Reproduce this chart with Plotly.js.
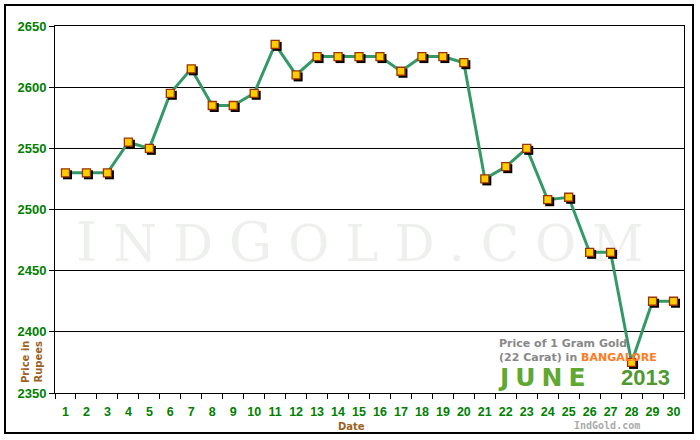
<!DOCTYPE html>
<html>
<head>
<meta charset="utf-8">
<script src="https://cdn.plot.ly/plotly-3.0.1.min.js"></script>
<style>
html,body{margin:0;padding:0;background:#fff;}
#chart{width:700px;height:440px;}
</style>
</head>
<body>
<div id="chart"></div>
<script>
// Data: 22 carat gold price per gram, Bangalore, June 2013
const dates = ['1','2','3','4','5','6','7','8','9','10','11','12','13','14','15','16','17','18','19','20','21','22','23','24','25','26','27','28','29','30'];
const prices = [2530,2530,2530,2555,2550,2595,2615,2585,2585,2595,2635,2610,2625,2625,2625,2625,2613,2625,2625,2620,2525,2535,2550,2508,2510,2465,2465,2375,2425,2425];
const yTicks = [2350,2400,2450,2500,2550,2600,2650];

// layout geometry (pixels)
const W = 700, H = 440;
const L = 55, R = 16, T = 26, B = 47;
const PW = W - L - R, PH = H - T - B;
const px = v => (v - L) / PW;          // pixel -> paper x
const py = v => (H - B - v) / PH;      // pixel -> paper y

const green = '#008000';
const brown = '#9c621e';
const lineColor = '#339966';

// shadow axes: same scale, shifted 2px right / 2px down
const sh = 2;
const xr = [-0.5, 29.5];
const yr = [2350, 2650];
const xr2 = [xr[0], xr[0] + (xr[1]-xr[0]) * (PW - sh) / PW];
const yr2 = [yr[1] - (yr[1]-yr[0]) * (PH - sh) / PH, yr[1]];

const traces = [
  {x: dates, y: prices, type: 'scatter', mode: 'lines', xaxis: 'x', yaxis: 'y',
   line: {color: lineColor, width: 3}, cliponaxis: false, hoverinfo: 'skip'},
  {x: dates, y: prices, type: 'scatter', mode: 'markers', xaxis: 'x2', yaxis: 'y2',
   marker: {symbol: 'square', size: 9, color: '#000', line: {width: 0}}, cliponaxis: false, hoverinfo: 'skip'},
  {x: dates, y: prices, type: 'scatter', mode: 'markers', xaxis: 'x3', yaxis: 'y3',
   marker: {symbol: 'square', size: 8, color: '#ffcc00', line: {color: '#993300', width: 1.3}}, cliponaxis: false}
];

const hiddenAxis = {visible: false, showgrid: false, zeroline: false, fixedrange: true};

const layout = {
  width: W, height: H,
  margin: {l: L, r: R, t: T, b: B},
  paper_bgcolor: '#ffffff', plot_bgcolor: 'rgba(0,0,0,0)',
  showlegend: false,
  font: {family: 'Liberation Sans, Arial, sans-serif'},
  xaxis: {
    type: 'category', range: xr, domain: [0, 1],
    showgrid: false, zeroline: false,
    showline: true, linecolor: '#000', linewidth: 1, mirror: true,
    ticks: 'outside', ticklen: 5, tickcolor: '#000', tickson: 'boundaries',
    tickangle: 0, ticklabelstandoff: 7,
    tickfont: {family: 'Liberation Sans, Arial, sans-serif', size: 12.5, color: green, weight: 'bold'}
  },
  yaxis: {
    range: yr, domain: [0, 1], tickvals: yTicks,
    showgrid: true, gridcolor: '#000', gridwidth: 1, zeroline: false,
    showline: true, linecolor: '#000', linewidth: 1, mirror: true,
    ticks: 'outside', ticklen: 5, tickcolor: '#000',
    tickfont: {family: 'Liberation Sans, Arial, sans-serif', size: 13, color: green, weight: 'bold'}
  },
  xaxis2: Object.assign({type: 'category', range: xr2, domain: [sh / PW, 1], anchor: 'y2'}, hiddenAxis),
  yaxis2: Object.assign({range: yr2, domain: [0, 1 - sh / PH], anchor: 'x2'}, hiddenAxis),
  xaxis3: Object.assign({type: 'category', range: xr, domain: [0, 1], anchor: 'y3'}, hiddenAxis),
  yaxis3: Object.assign({range: yr, domain: [0, 1], anchor: 'x3'}, hiddenAxis),
  shapes: [
    // outer frame
    {type: 'rect', xref: 'paper', yref: 'paper', x0: px(5), x1: px(693), y0: py(433), y1: py(5),
     line: {color: '#000', width: 2}, fillcolor: 'rgba(0,0,0,0)', layer: 'below'},
    // watermark
    {type: 'rect', xref: 'paper', yref: 'paper', x0: px(60), x1: px(675), y0: py(270), y1: py(206),
     line: {width: 0}, fillcolor: 'rgba(0,0,0,0)', layer: 'below',
     label: {text: '<span style="letter-spacing:16px">I<span style="font-size:50px">ND</span>G<span style="font-size:50px">OLD.COM</span></span>',
             textposition: 'middle center',
             font: {family: 'DejaVu Serif, Liberation Serif, serif', size: 54, color: '#eef0ee'}}}
  ],
  annotations: [
    {xref: 'paper', yref: 'paper', x: px(351), y: py(426), text: '<b>Date</b>', showarrow: false,
     xanchor: 'center', yanchor: 'middle', font: {family: 'DejaVu Sans, Verdana, sans-serif', size: 10, color: brown}},
    {xref: 'paper', yref: 'paper', x: px(32), y: py(362), text: '<b>Price in<br>Rupees</b>', showarrow: false,
     textangle: -90, xanchor: 'center', yanchor: 'middle',
     font: {family: 'DejaVu Sans, Verdana, sans-serif', size: 10, color: brown}},
    {xref: 'paper', yref: 'paper', x: px(497), y: py(343), text: '<b>Price of 1 Gram Gold</b>', showarrow: false,
     xanchor: 'left', yanchor: 'middle', font: {family: 'DejaVu Sans, Verdana, sans-serif', size: 11, color: '#888888'}},
    {xref: 'paper', yref: 'paper', x: px(497), y: py(357), text: '<b>(22 Carat) in <span style="color:#ff7a22">BANGALORE</span></b>', showarrow: false,
     xanchor: 'left', yanchor: 'middle', font: {family: 'DejaVu Sans, Verdana, sans-serif', size: 11, color: '#888888'}},
    {xref: 'paper', yref: 'paper', x: px(496), y: py(377), text: '<b><span style="letter-spacing:6px">JUNE</span></b>', showarrow: false,
     xanchor: 'left', yanchor: 'middle', font: {family: 'DejaVu Sans, Verdana, sans-serif', size: 25, color: '#5fa832'}},
    {xref: 'paper', yref: 'paper', x: px(619), y: py(377), text: '<b>2013</b>', showarrow: false,
     xanchor: 'left', yanchor: 'middle', font: {family: 'Liberation Sans, Arial, sans-serif', size: 22, color: '#4f9a30'}},
    {xref: 'paper', yref: 'paper', x: px(607), y: py(425), text: '<b>IndGold.com</b>', showarrow: false,
     xanchor: 'center', yanchor: 'middle', font: {family: 'DejaVu Sans Mono, monospace', size: 10, color: '#aaaaaa'}}
  ]
};

Plotly.newPlot('chart', traces, layout, {staticPlot: true, displayModeBar: false});
</script>
</body>
</html>
